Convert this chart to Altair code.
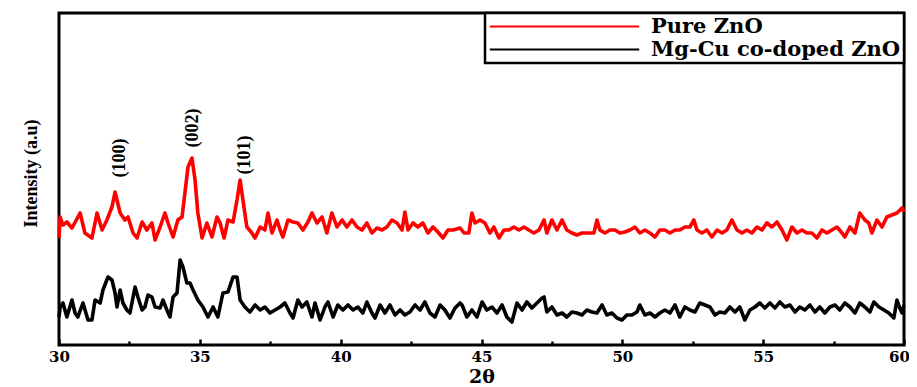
import altair as alt
import pandas as pd

# ---- data (2-theta in degrees, intensity in arbitrary units) ----
pure_x = [30.00, 30.04, 30.14, 30.28, 30.46, 30.75, 30.92, 31.17, 31.35, 31.53, 31.70, 31.88, 31.99,
          32.17, 32.34, 32.45, 32.63, 32.77, 32.95, 33.12, 33.30, 33.41, 33.59, 33.76, 33.87, 34.05,
          34.22, 34.37, 34.47, 34.58, 34.72, 34.83, 34.93, 35.08, 35.25, 35.43, 35.61, 35.72, 35.86,
          36.00, 36.18, 36.32, 36.43, 36.53, 36.67, 36.85, 36.96, 37.14, 37.31, 37.42, 37.56, 37.74,
          37.85, 37.95, 38.13, 38.31, 38.48, 38.66, 38.84, 38.98, 39.16, 39.34, 39.51, 39.69, 39.87,
          40.05, 40.22, 40.40, 40.58, 40.76, 40.93, 41.11, 41.29, 41.47, 41.64, 41.82, 42.00, 42.18,
          42.28, 42.39, 42.57, 42.74, 42.92, 43.10, 43.28, 43.45, 43.63, 43.81, 43.99, 44.24, 44.38,
          44.55, 44.66, 44.77, 44.95, 45.12, 45.30, 45.44, 45.62, 45.80, 45.97, 46.15, 46.33, 46.51,
          46.68, 46.86, 47.04, 47.22, 47.32, 47.50, 47.68, 47.86, 48.03, 48.21, 48.39, 48.57, 48.74,
          48.99, 49.10, 49.20, 49.38, 49.56, 49.74, 49.91, 50.09, 50.27, 50.45, 50.62, 50.80, 50.98,
          51.16, 51.33, 51.51, 51.69, 51.87, 52.04, 52.22, 52.40, 52.54, 52.65, 52.83, 53.00, 53.18,
          53.36, 53.54, 53.71, 53.89, 54.07, 54.25, 54.42, 54.60, 54.78, 54.96, 55.13, 55.31, 55.49,
          55.67, 55.84, 56.02, 56.20, 56.38, 56.55, 56.73, 56.91, 57.09, 57.26, 57.44, 57.62, 57.80,
          57.90, 58.08, 58.26, 58.43, 58.61, 58.75, 58.86, 59.04, 59.22, 59.39, 59.57, 59.75, 59.93,
          60.00]
pure_y = [107, 128, 120, 123, 117, 132, 112, 107, 132, 115, 125, 138, 153,
          132, 125, 128, 112, 107, 123, 115, 122, 105, 118, 132, 122, 108,
          125, 128, 152, 178, 187, 165, 132, 107, 122, 108, 128, 122, 107,
          125, 123, 145, 165, 145, 118, 112, 107, 118, 115, 132, 112, 125,
          115, 108, 125, 123, 122, 115, 123, 132, 122, 128, 112, 132, 118,
          125, 118, 125, 118, 115, 122, 112, 117, 115, 118, 125, 122, 115,
          133, 115, 122, 118, 122, 112, 118, 113, 107, 115, 115, 117, 112,
          112, 132, 122, 125, 122, 112, 118, 107, 115, 115, 118, 115, 118,
          115, 112, 115, 125, 112, 125, 115, 125, 115, 112, 110, 112, 112,
          112, 125, 115, 112, 115, 115, 112, 113, 115, 118, 112, 115, 112,
          108, 115, 115, 112, 115, 115, 118, 118, 125, 115, 112, 115, 108,
          115, 112, 115, 125, 115, 112, 115, 112, 118, 115, 122, 118, 123,
          115, 105, 118, 112, 115, 112, 112, 107, 115, 112, 115, 118, 112,
          108, 118, 112, 132, 125, 122, 112, 125, 118, 128, 130, 132, 137,
          133]

doped_x = [30.00, 30.04, 30.14, 30.28, 30.46, 30.57, 30.67, 30.85, 31.03, 31.17, 31.28, 31.46, 31.56,
           31.74, 31.88, 31.99, 32.06, 32.17, 32.27, 32.41, 32.52, 32.70, 32.80, 32.95, 33.05, 33.16,
           33.30, 33.41, 33.59, 33.69, 33.83, 33.94, 34.05, 34.19, 34.30, 34.40, 34.54, 34.65, 34.76,
           34.93, 35.11, 35.29, 35.47, 35.64, 35.82, 36.00, 36.18, 36.32, 36.43, 36.60, 36.78, 36.96,
           37.14, 37.31, 37.49, 37.67, 37.85, 38.02, 38.20, 38.31, 38.48, 38.63, 38.80, 38.98, 39.09,
           39.27, 39.44, 39.55, 39.73, 39.90, 40.08, 40.26, 40.44, 40.61, 40.79, 40.93, 41.11, 41.22,
           41.40, 41.57, 41.75, 41.93, 42.11, 42.28, 42.46, 42.64, 42.82, 42.99, 43.17, 43.35, 43.53,
           43.70, 43.88, 44.06, 44.24, 44.31, 44.48, 44.66, 44.84, 45.02, 45.19, 45.37, 45.55, 45.73,
           45.90, 46.08, 46.26, 46.44, 46.61, 46.79, 46.97, 47.15, 47.22, 47.32, 47.50, 47.68, 47.86,
           48.03, 48.21, 48.39, 48.57, 48.74, 48.92, 49.10, 49.28, 49.45, 49.63, 49.81, 49.99, 50.16,
           50.34, 50.52, 50.62, 50.80, 50.98, 51.16, 51.33, 51.51, 51.69, 51.87, 52.04, 52.22, 52.40,
           52.58, 52.75, 52.93, 53.11, 53.29, 53.46, 53.64, 53.82, 54.00, 54.17, 54.35, 54.53, 54.71,
           54.88, 55.06, 55.24, 55.42, 55.59, 55.77, 55.95, 56.13, 56.30, 56.48, 56.66, 56.84, 57.01,
           57.19, 57.37, 57.55, 57.72, 57.90, 58.08, 58.26, 58.43, 58.61, 58.79, 58.93, 59.11, 59.29,
           59.46, 59.64, 59.75, 59.85, 59.93, 60.00]
doped_y = [28, 38, 42, 28, 45, 32, 28, 42, 25, 25, 45, 42, 55,
           68, 65, 52, 38, 55, 42, 35, 32, 58, 48, 35, 38, 50,
           48, 38, 37, 45, 35, 28, 48, 52, 85, 78, 62, 62, 55,
           45, 38, 28, 38, 28, 52, 53, 68, 68, 45, 38, 33, 40,
           35, 38, 32, 35, 38, 42, 32, 27, 45, 38, 43, 28, 42,
           25, 38, 43, 28, 40, 35, 40, 35, 38, 32, 43, 32, 27,
           40, 32, 40, 30, 35, 30, 33, 40, 35, 43, 32, 28, 40,
           35, 27, 37, 42, 40, 28, 35, 28, 43, 35, 38, 32, 40,
           28, 23, 42, 35, 43, 37, 42, 47, 48, 33, 38, 30, 32,
           28, 33, 32, 30, 35, 33, 32, 40, 30, 32, 27, 25, 30,
           30, 33, 40, 30, 32, 28, 32, 35, 32, 40, 28, 38, 35,
           33, 42, 40, 38, 30, 33, 32, 38, 33, 38, 25, 35, 38,
           42, 37, 42, 37, 43, 38, 40, 33, 38, 35, 40, 33, 38,
           32, 38, 40, 35, 42, 38, 32, 42, 38, 33, 43, 38, 35,
           32, 27, 45, 37, 32, 40]

series_names = ["Pure ZnO", "Mg-Cu co-doped ZnO"]
series_colors = ["#ff0000", "#000000"]

peak_labels = ["(100)", "(002)", "(101)"]
peak_x = [32.17, 34.76, 36.60]
peak_y = [187, 217, 190]

major_ticks = [30, 35, 40, 45, 50, 55, 60]
minor_ticks = [32.5, 37.5, 42.5, 47.5, 52.5, 57.5]

# ---- tables ----
df = pd.concat([
    pd.DataFrame({"theta": pure_x, "intensity": pure_y, "series": series_names[0], "order": 0}),
    pd.DataFrame({"theta": doped_x, "intensity": doped_y, "series": series_names[1], "order": 1}),
], ignore_index=True)
ann = pd.DataFrame({"label": peak_labels, "theta": peak_x, "intensity": peak_y})

x_scale = alt.Scale(domain=[30, 60], nice=False, zero=False)
y_scale = alt.Scale(domain=[0, 332], nice=False, zero=False)

y_axis = alt.Axis(title="Intensity (a.u)", labels=False, ticks=False, domain=False,
                  grid=False, titleFont="Liberation Serif", titleFontWeight="bold",
                  titleFontSize=18, titleColor="black", titlePadding=19, titleY=160)

lines = alt.Chart(df).mark_line(strokeWidth=3.6, strokeJoin="round").encode(
    x=alt.X("theta:Q", scale=x_scale,
            axis=alt.Axis(orient="bottom", values=major_ticks, title="2θ", format="d",
                          domain=False, grid=False, tickSize=6, offset=-6, tickWidth=2.5,
                          tickColor="black", labelPadding=4,
                          labelOffset={"condition": {"test": "datum.value == 60", "value": -5},
                                       "value": 0},
                          labelFont="DejaVu Serif", labelFontWeight="bold", labelFontSize=15,
                          labelColor="black", titleFont="DejaVu Serif", titleFontWeight="bold",
                          titleFontSize=19, titleColor="black", titlePadding=3,
                          labelFlush=False)),
    y=alt.Y("intensity:Q", scale=y_scale, axis=y_axis),
    color=alt.Color("series:N",
                    scale=alt.Scale(domain=series_names, range=series_colors),
                    legend=alt.Legend(title=None, orient="top-right", offset=0,
                                      symbolType="M-8.3,0H8.3", symbolSize=324,
                                      symbolOffset=66, symbolStrokeWidth=2.2,
                                      labelFont="DejaVu Serif",
                                      labelFontWeight="bold", labelFontSize=21,
                                      labelColor="black", labelOffset=76, padding=3,
                                      rowPadding=1, strokeColor="black", fillColor="white",
                                      labelLimit=400)),
    order="order:Q",
    detail="series:N",
)

labels = alt.Chart(ann).mark_text(angle=270, font="Liberation Serif", fontSize=18,
                                  fontWeight="bold", color="black", align="center",
                                  baseline="middle").encode(
    x=alt.X("theta:Q", scale=x_scale,
            axis=alt.Axis(orient="bottom", values=minor_ticks, labels=False, title=None,
                          domain=False, grid=False, tickSize=4, offset=-4, tickWidth=2.5,
                          tickColor="black")),
    y=alt.Y("intensity:Q", scale=y_scale, axis=y_axis),
    text="label:N",
)

chart = alt.layer(lines, labels).resolve_axis(x="independent").properties(
    width=845, height=332,
    autosize=alt.AutoSizeParams(type="none"),
    padding={"left": 51, "top": 5, "right": 5, "bottom": 42},
).configure_view(
    stroke="black", strokeWidth=3
).configure_legend(strokeWidth=2.5)

chart.save("out.html", embed_options={"renderer": "svg", "actions": False})
